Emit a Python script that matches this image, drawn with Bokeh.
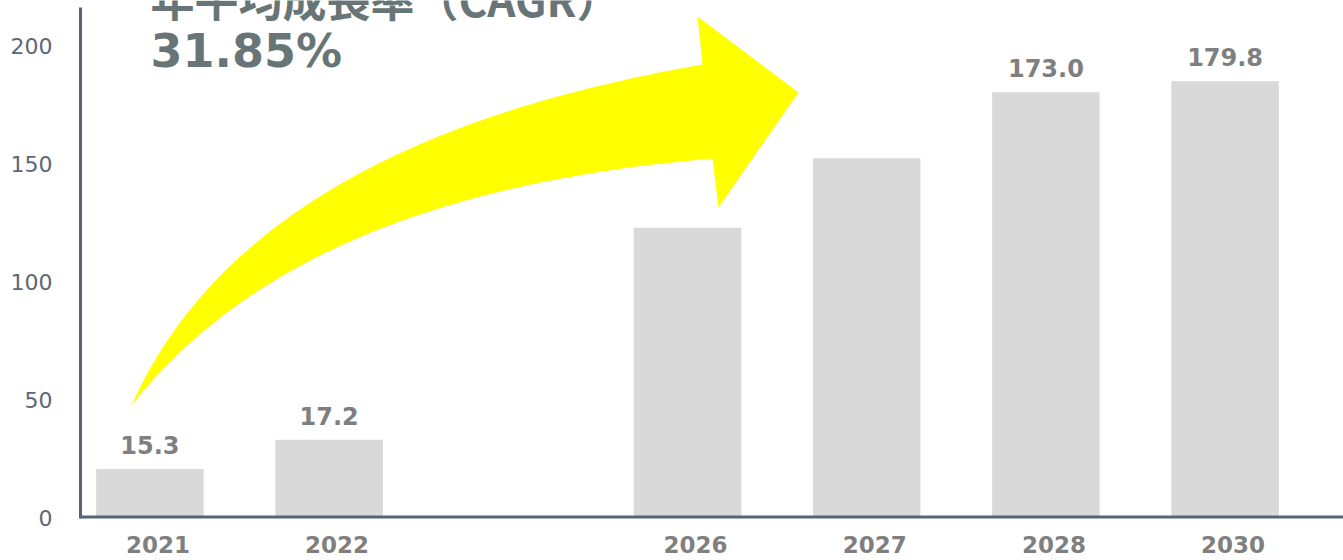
import numpy as np
from bokeh.plotting import figure
from bokeh.models import Range1d, FixedTicker
from bokeh.core.properties import value
from bokeh.embed import file_html
from bokeh.resources import INLINE

# ---------------- data ----------------
years = ["2021", "2022", "2026", "2027", "2028", "2030"]
bar_values = [20.6, 32.9, 122.8, 152.2, 180.2, 184.9]
value_labels = ["15.3", "17.2", "", "", "173.0", "179.8"]
y_ticks = [0, 50, 100, 150, 200]
title_line1 = "年平均成長率（CAGR）"
title_line2 = "31.85%"

# ---------------- layout ----------------
W, H = 1343, 560
FRAME_LEFT = 78          # canvas px
ZERO_Y = 517             # canvas px of value 0
PX_PER_X = 179.2
PX_PER_Y = 2.36
X_START = (FRAME_LEFT + 29.8) / PX_PER_X

# slot positions on the x axis (gap between 2022 and 2026)
x_pos = [float(i + 1) if i < 2 else float(i + 2) for i in range(len(years))]

x_range = Range1d(X_START, X_START + (W - FRAME_LEFT) / PX_PER_X)
y_range = Range1d(-(H - ZERO_Y) / PX_PER_Y, ZERO_Y / PX_PER_Y)

p = figure(width=W, height=H, x_range=x_range, y_range=y_range,
           output_backend="svg", toolbar_location=None, x_axis_location=None,
           min_border_left=FRAME_LEFT, min_border_right=0,
           min_border_top=0, min_border_bottom=0)
p.outline_line_color = None
p.xgrid.visible = False
p.ygrid.visible = False
p.background_fill_color = "white"
p.border_fill_color = "white"

# canvas-pixel -> data helpers for decorative shapes
def dx(px):
    return X_START + (px - FRAME_LEFT) / PX_PER_X

def dy(py):
    return (ZERO_Y - py) / PX_PER_Y

def bezier_fit(pts, n=90):
    """Smooth cubic Bezier through the end points, least-squares to the rest."""
    Q = np.asarray(pts, float)
    d = np.r_[0, np.cumsum(np.hypot(*np.diff(Q, axis=0).T))]
    t = d / d[-1]
    b0, b1 = (1 - t) ** 3, 3 * (1 - t) ** 2 * t
    b2, b3 = 3 * (1 - t) * t ** 2, t ** 3
    P0, P3 = Q[0], Q[-1]
    R = Q - np.outer(b0, P0) - np.outer(b3, P3)
    sol, *_ = np.linalg.lstsq(np.column_stack([b1, b2]), R, rcond=None)
    P1, P2 = sol
    tt = np.linspace(0, 1, n)
    return (np.outer((1 - tt) ** 3, P0) + np.outer(3 * (1 - tt) ** 2 * tt, P1)
            + np.outer(3 * (1 - tt) * tt ** 2, P2) + np.outer(tt ** 3, P3))

AXIS_COLOR = "#5a6474"
LABEL_GRAY = "#7f7f7f"

# ---------------- arrow (decoration) ----------------
upper = bezier_fit([(131, 405), (143, 377), (177, 320), (210, 283), (243, 257),
                    (273, 232), (300, 210), (367, 166), (400, 150), (433, 137),
                    (500, 114), (600, 88), (702, 64)])
lower = bezier_fit([(131, 405), (143, 387), (177, 353), (210, 323), (243, 300),
                    (277, 280), (310, 262), (367, 233), (400, 219), (467, 200),
                    (533, 183), (600, 172), (667, 163), (712, 158)])
head = np.array([(697, 16), (798, 92), (718, 207)], float)
outline = np.vstack([upper, head, lower[::-1]])
p.patch([dx(v) for v in outline[:, 0]], [dy(v) for v in outline[:, 1]],
        fill_color="#ffff00", line_color=None)

# ---------------- bars ----------------
p.vbar(x=x_pos, top=bar_values, width=0.6, fill_color="#d9d9d9", line_color=None)

p.text(x=x_pos, y=bar_values, text=value_labels, text_align="center",
       text_baseline="alphabetic", y_offset=-24,
       text_font=value("DejaVu Sans"), text_font_style="bold",
       text_font_size="24px", text_color=LABEL_GRAY)

# ---------------- axis lines ----------------
p.segment(x0=[dx(80)], y0=[dy(518)], x1=[dx(80)], y1=[dy(7)],
          line_color=AXIS_COLOR, line_width=3)
p.segment(x0=[dx(80)], y0=[dy(516.5)], x1=[x_range.end], y1=[dy(516.5)],
          line_color=AXIS_COLOR, line_width=3)

# x category labels
p.text(x=x_pos, y=[0] * len(x_pos), text=years, text_align="center",
       text_baseline="alphabetic", x_offset=8, y_offset=27,
       text_font=value("DejaVu Sans"), text_font_style="bold",
       text_font_size="23px", text_color=LABEL_GRAY)

# ---------------- title ----------------
TITLE_COLOR = "#687576"
p.text(x=[dx(150)], y=[dy(-3)], text=[title_line1], text_align="left",
       text_baseline="alphabetic", text_font=value("Noto Sans CJK JP"),
       text_font_style="bold", text_font_size="44px", text_color=TITLE_COLOR)
p.text(x=[dx(150)], y=[dy(50)], text=[title_line2], text_align="left",
       text_baseline="alphabetic", text_font=value("DejaVu Sans"),
       text_font_style="bold", text_font_size="46px", text_color=TITLE_COLOR)

# ---------------- y axis ----------------
p.yaxis.ticker = FixedTicker(ticks=y_ticks)
p.yaxis.axis_line_color = None
p.yaxis.major_tick_out = 0
p.yaxis.major_tick_in = 0
p.yaxis.minor_tick_out = 0
p.yaxis.minor_tick_in = 0
p.yaxis.major_label_standoff = 26
p.yaxis.major_label_text_font = "DejaVu Sans"
p.yaxis.major_label_text_font_size = "22px"
p.yaxis.major_label_text_color = "#5f6776"

open("out.html", "w").write(file_html(p, INLINE))
